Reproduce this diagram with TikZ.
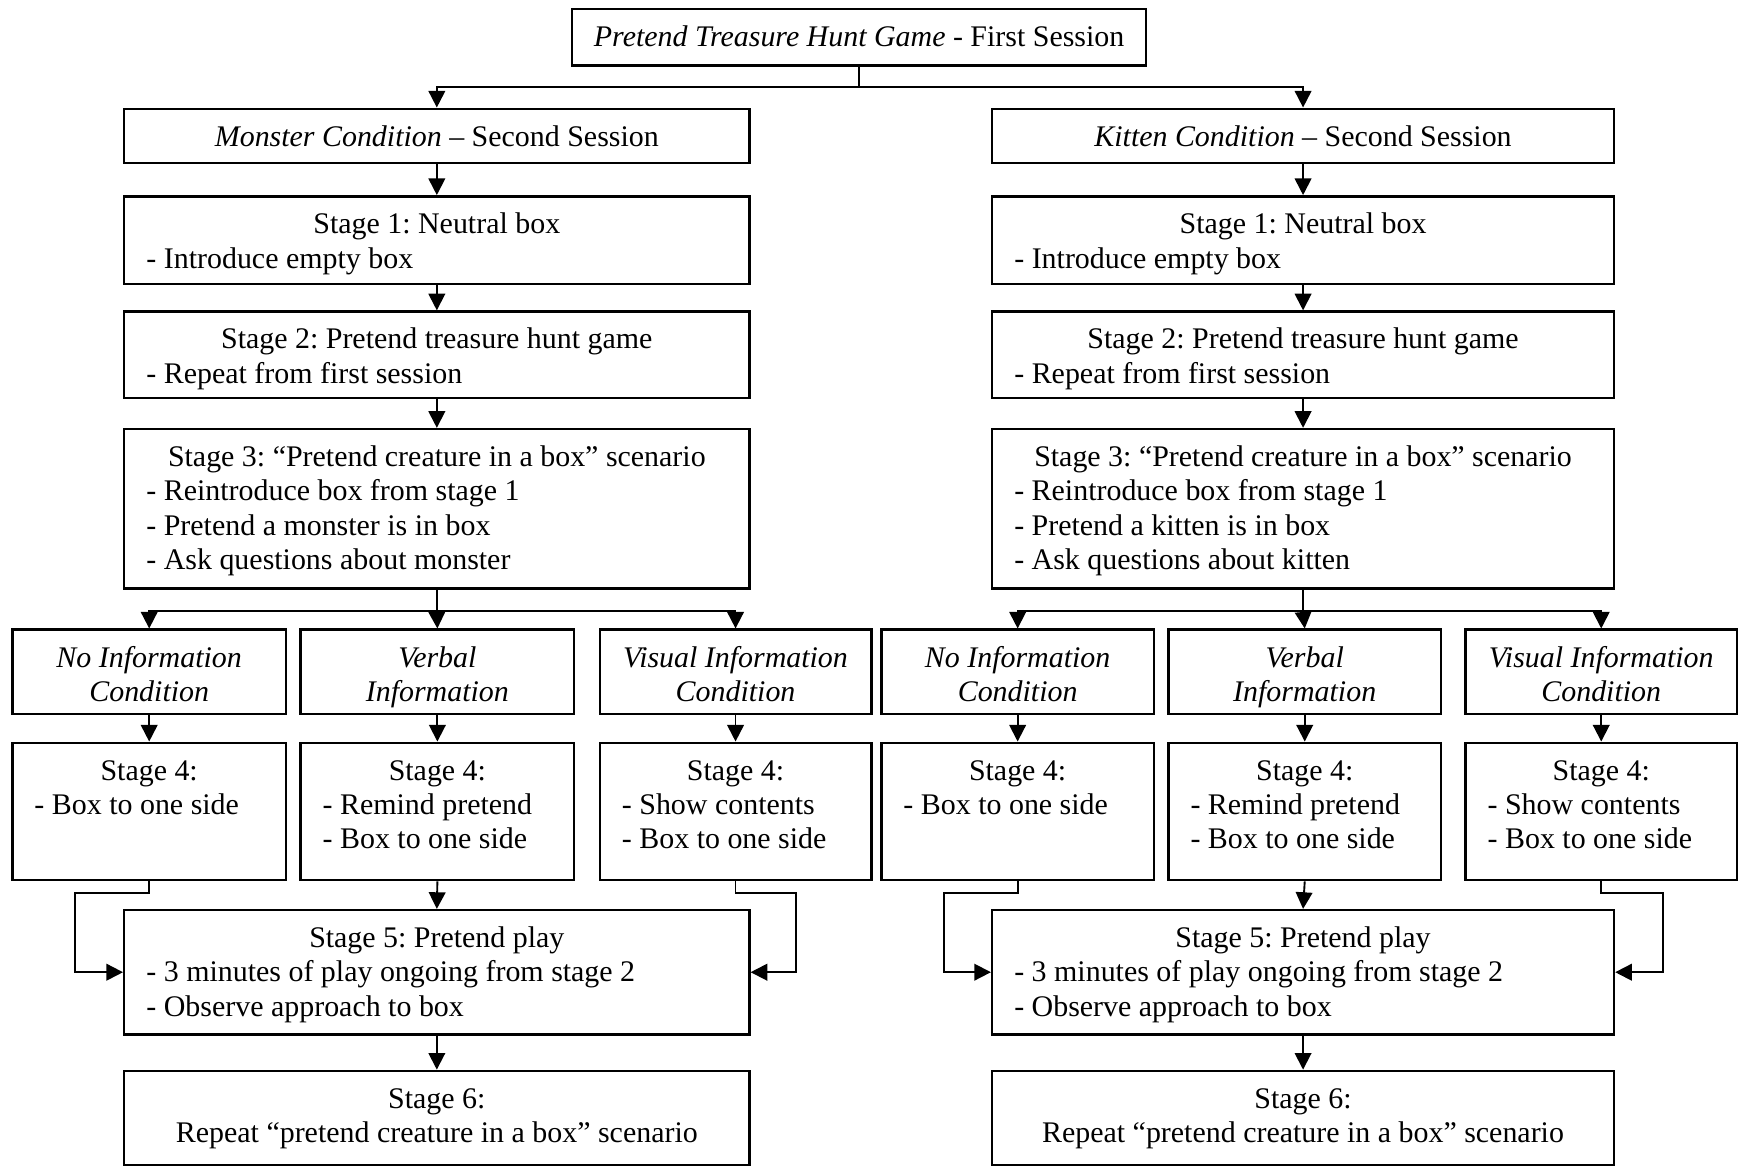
\documentclass[tikz,border=0pt]{standalone}
\usepackage{fontspec}
\setmainfont{Liberation Serif}
\usetikzlibrary{arrows.meta,calc}
\frenchspacing
\newcommand{\CLine}[1]{\centerline{\strut#1}}
\newcommand{\LLine}[1]{\leftline{\strut#1}}
\newcommand{\Bx}[6]{%
  \pgfmathsetmacro\myW{#4-#2-40}\pgfmathsetmacro\myH{#5-#3-24}%
  \node[bx] (#1) at (#2,#3) {\parbox[c][\myH pt][t]{\myW pt}{\frenchspacing#6}};}
\begin{document}
\begin{tikzpicture}[x=1pt,y=-1pt,
  bx/.style={draw, line width=2.2pt, anchor=north west, inner xsep=20pt, inner ysep=12pt,
    font=\fontsize{27}{31}\selectfont},
  arr/.style={draw, line width=1.7pt, -{Triangle[length=15pt,width=15pt]}},
  ln/.style={draw, line width=1.7pt}]
\useasboundingbox (0,0) rectangle (1568,1053);
% top
\Bx{top}{515}{7}{1033}{58}{\CLine{\textit{Pretend Treasure Hunt Game} - First Session}}
% ---------------- left column
\Bx{cndL}{111}{97}{675}{146}{\CLine{\textit{Monster Condition} – Second Session}}
\Bx{s1L}{111}{176}{675}{255}{\CLine{Stage 1: Neutral box}\LLine{- Introduce empty box}}
\Bx{s2L}{111}{280}{675}{358}{\CLine{Stage 2: Pretend treasure hunt game}\LLine{- Repeat from first session}}
\Bx{s3L}{111}{386}{675}{530}{\CLine{Stage 3: “Pretend creature in a box” scenario}\LLine{- Reintroduce box from stage 1}\LLine{- Pretend a monster is in box}\LLine{- Ask questions about monster}}
\Bx{caL}{10}{567}{257}{643}{\CLine{\textit{No Information}}\CLine{\textit{Condition}}}
\Bx{cbL}{270}{567}{517}{643}{\CLine{\textit{Verbal}}\CLine{\textit{Information}}}
\Bx{ccL}{540}{567}{785}{643}{\CLine{\textit{Visual Information}}\CLine{\textit{Condition}}}
\Bx{daL}{10}{669}{257}{793}{\CLine{Stage 4:}\LLine{- Box to one side}}
\Bx{dbL}{270}{669}{517}{793}{\CLine{Stage 4:}\LLine{- Remind pretend}\LLine{- Box to one side}}
\Bx{dcL}{540}{669}{785}{793}{\CLine{Stage 4:}\LLine{- Show contents}\LLine{- Box to one side}}
\Bx{s5L}{111}{820}{675}{932}{\CLine{Stage 5: Pretend play}\LLine{- 3 minutes of play ongoing from stage 2}\LLine{- Observe approach to box}}
\Bx{s6L}{111}{965}{675}{1050}{\CLine{Stage 6:}\CLine{Repeat “pretend creature in a box” scenario}}
% ---------------- right column
\Bx{cndR}{894}{97}{1455}{146}{\CLine{\textit{Kitten Condition} – Second Session}}
\Bx{s1R}{894}{176}{1455}{255}{\CLine{Stage 1: Neutral box}\LLine{- Introduce empty box}}
\Bx{s2R}{894}{280}{1455}{358}{\CLine{Stage 2: Pretend treasure hunt game}\LLine{- Repeat from first session}}
\Bx{s3R}{894}{386}{1455}{530}{\CLine{Stage 3: “Pretend creature in a box” scenario}\LLine{- Reintroduce box from stage 1}\LLine{- Pretend a kitten is in box}\LLine{- Ask questions about kitten}}
\Bx{caR}{794}{567}{1040}{643}{\CLine{\textit{No Information}}\CLine{\textit{Condition}}}
\Bx{cbR}{1053}{567}{1299}{643}{\CLine{\textit{Verbal}}\CLine{\textit{Information}}}
\Bx{ccR}{1321}{567}{1566}{643}{\CLine{\textit{Visual Information}}\CLine{\textit{Condition}}}
\Bx{daR}{794}{669}{1040}{793}{\CLine{Stage 4:}\LLine{- Box to one side}}
\Bx{dbR}{1053}{669}{1299}{793}{\CLine{Stage 4:}\LLine{- Remind pretend}\LLine{- Box to one side}}
\Bx{dcR}{1321}{669}{1566}{793}{\CLine{Stage 4:}\LLine{- Show contents}\LLine{- Box to one side}}
\Bx{s5R}{894}{820}{1455}{932}{\CLine{Stage 5: Pretend play}\LLine{- 3 minutes of play ongoing from stage 2}\LLine{- Observe approach to box}}
\Bx{s6R}{894}{965}{1455}{1050}{\CLine{Stage 6:}\CLine{Repeat “pretend creature in a box” scenario}}
% ---------------- connectors
\coordinate (j0) at ($(top.south)+(0,18)$);
\draw[ln] (top.south) -- (j0);
\draw[arr] (j0) -| (cndL.north);
\draw[arr] (j0) -| (cndR.north);
\coordinate (xL) at (68,806);
\coordinate (yL) at (718,806);
\coordinate (xR) at (852,806);
\coordinate (yR) at (1500,806);
\foreach \s in {L,R}{
  \draw[arr] (cnd\s.south) -- (s1\s.north);
  \draw[arr] (s1\s.south) -- (s2\s.north);
  \draw[arr] (s2\s.south) -- (s3\s.north);
  \coordinate (j\s) at ($(s3\s.south)+(0,19)$);
  \draw[ln] (s3\s.south) -- (j\s);
  \draw[arr] (j\s) -| (ca\s.north);
  \draw[arr] (j\s) -| (cc\s.north);
  \draw[arr] (j\s) -- (cb\s.north);
  \draw[arr] (ca\s.south) -- (da\s.north);
  \draw[arr] (cb\s.south) -- (db\s.north);
  \draw[arr] (cc\s.south) -- (dc\s.north);
  \draw[arr] (db\s.south) -- (s5\s.north);
  \draw[arr] (s5\s.south) -- (s6\s.north);
  \draw[arr] (da\s.south) |- (x\s) |- (s5\s.west);
  \draw[arr] (dc\s.south) |- (y\s) |- (s5\s.east);
}
\end{tikzpicture}
\end{document}
